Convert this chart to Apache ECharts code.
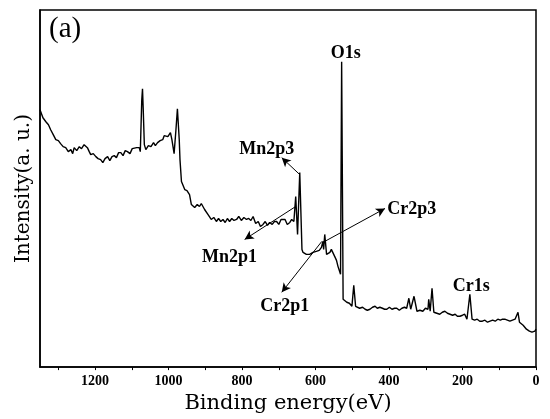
<!DOCTYPE html>
<html>
<head>
<meta charset="utf-8">
<script src="https://cdn.jsdelivr.net/npm/echarts@6/dist/echarts.min.js"></script>
<style>
html,body{margin:0;padding:0;background:#fff;}
#chart{width:550px;height:419px;}
</style>
</head>
<body>
<div id="chart"></div>
<script>
// Binding energy (eV) and intensity (a.u., arbitrary units)
var energy = [1350,1342,1334,1327,1321,1314,1307,1300,1294,1287,1280,1273,1266,1261,1257,1250,1243,1237,1230,1225,1221,1216,1212,1205,1198,1192,1185,1179,1173,1166,1160,1154,1148,1142,1136,1130,1124,1118,1112,1105,1099,1094,1087,1080,1077,1073,1071,1069,1066,1062,1055,1048,1041,1036,1030,1023,1016,1012,1007,1002,995,991,985,980,976,971,969,965,956,950,943,938,933,929,922,916,911,907,902,893,888,884,877,870,864,858,852,846,840,834,828,822,815,809,802,795,788,782,776,770,763,756,750,743,737,731,725,718,712,706,700,694,689,683,677,670,665,659,654,649,643,637,634,625,616,607,598,590,584,580,578,575,570,566,561,557,554,548,543,539,532,529,525,520,515,508,501,496,491,486,480,472,465,459,452,445,438,432,425,418,412,406,399,392,385,379,372,365,358,352,346,341,336,332,324,316,308,301,294,292,288,283,278,270,262,255,248,241,234,227,220,214,207,200,194,188,180,174,167,160,153,146,139,132,125,118,111,104,97,91,85,78,71,64,57,49,45,41,35,30,26,22,18,14,11,7,3,0];
var intensity = [258,250,246,243,238,233,228,227,224,221,220,216,218,214,220,217,221,219,223,225,220,216,213,214,211,209,208,205,209,211,207,211,212,210,215,215,212,217,216,214,219,218,220,220,216,268,279,258,223,218,222,221,225,222,225,227,228,232,233,231,235,228,214,238,259,228,208,186,178,177,173,163,161,160,163,161,164,166,158,153,151,148,150,146,149,146,148,145,149,146,149,147,148,151,147,150,148,149,147,151,144,146,141,143,146,142,145,143,146,146,143,148,146,148,143,145,148,146,171,133,195,118,115,113,113,115,116,117,120,126,118,133,113,115,115,118,120,111,107,101,93,306,68,66,65,64,61,82,61,60,59,60,58,57,58,60,61,59,60,59,58,58,60,58,59,59,57,59,60,59,69,58,60,71,56,57,56,59,58,68,56,79,55,54,53,55,56,54,53,52,53,51,51,52,53,48,73,48,47,48,46,46,47,45,46,47,46,48,47,48,48,47,46,47,48,55,45,43,42,41,38,38,36,37,35,34,36,38];

var xTicks = [0,200,400,600,800,1000,1200];

// Peak annotations: label text, label position [eV, I]
var peakNames = ['O1s','Mn2p3','Mn2p1','Cr2p3','Cr2p1','Cr1s'];
var labelPos = [[518,315],[733,218],[834,110],[338,158],[684,61],[176,81]];
// Arrows: from [eV, I] to [eV, I]
var arrowFrom = [[643,193],[654,161],[580,125],[583,126]];
var arrowTo = [[692,210],[793,128],[411,159],[692,75]];

var seriesData = energy.map(function(e,i){return [e,intensity[i]];});

var markPts = peakNames.map(function(n,i){
  return {coord: labelPos[i], value: n, symbol:'circle', symbolSize:0,
    label:{show:true, position:'inside', formatter:n, color:'#000',
      fontFamily:'Liberation Serif', fontWeight:'bold', fontSize:18}};
});
var markLns = arrowFrom.map(function(f,i){
  return [{coord:f, symbol:'none'},{coord:arrowTo[i], symbol:'arrow'}];
});

var chart = echarts.init(document.getElementById('chart'));
chart.setOption({
  animation:false,
  backgroundColor:'#fff',
  title:{text:'(a)', left:44, top:10,
    textStyle:{fontFamily:'Liberation Serif', fontWeight:'normal', fontSize:29, color:'#000'}},
  grid:{left:40, right:14, top:10, bottom:51, show:true, borderColor:'#000', borderWidth:1.5, backgroundColor:'transparent'},
  xAxis:{
    type:'value', inverse:true, min:0, max:1350, interval:100,
    name:'Binding energy(eV)', nameLocation:'middle', nameGap:20,
    nameTextStyle:{fontFamily:'DejaVu Serif', fontSize:21, color:'#000'},
    axisLine:{show:true, onZero:false, lineStyle:{color:'#000', width:1.5}},
    axisTick:{show:true, inside:false, length:3, lineStyle:{color:'#000', width:1}},
    axisLabel:{show:true, margin:7, showMaxLabel:false, color:'#000',
      fontFamily:'Liberation Serif', fontWeight:'bold', fontSize:14,
      formatter:function(v){return xTicks.indexOf(v)>=0 ? String(v) : '';}},
    splitLine:{show:false}
  },
  yAxis:{
    type:'value', min:0, max:358,
    name:'Intensity(a. u.)', nameLocation:'middle', nameGap:6,
    nameTextStyle:{fontFamily:'DejaVu Serif', fontSize:20, color:'#000'},
    axisLine:{show:true, onZero:false, lineStyle:{color:'#000', width:1.5}},
    axisTick:{show:false}, axisLabel:{show:false}, splitLine:{show:false}
  },
  series:[{
    type:'line', data:seriesData, symbol:'none', smooth:false,
    lineStyle:{color:'#000', width:1.4},
    markPoint:{silent:true, data:markPts},
    markLine:{silent:true, symbolSize:[7,9], label:{show:false},
      lineStyle:{color:'#000', width:1, type:'solid'}, data:markLns}
  }]
});
</script>
</body>
</html>
